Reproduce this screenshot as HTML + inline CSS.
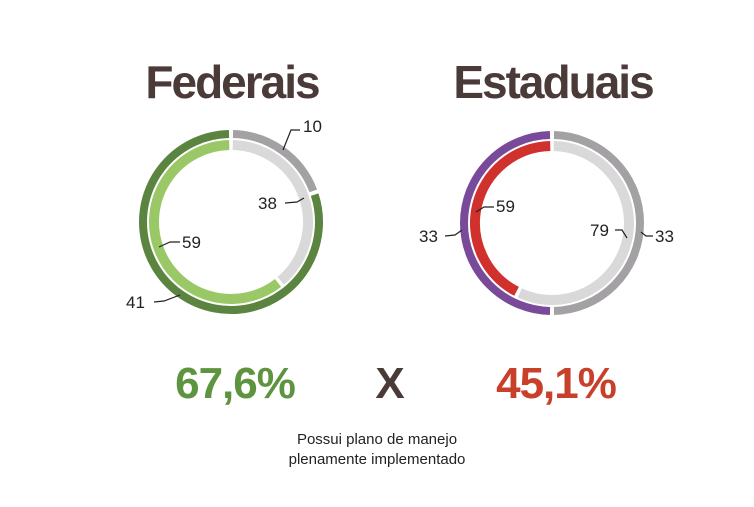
<!DOCTYPE html>
<html><head><meta charset="utf-8"><style>
body{margin:0;background:#fff;}
svg{display:block;font-family:"Liberation Sans",Arial,sans-serif;}
</style></head><body>
<svg width="754" height="507" viewBox="0 0 754 507">
<text x="232" y="98" text-anchor="middle" font-size="46" font-weight="bold" fill="#4a3b38" letter-spacing="-2">Federais</text>
<text x="553" y="98" text-anchor="middle" font-size="46" font-weight="bold" fill="#4a3b38" letter-spacing="-2">Estaduais</text>
<g id="rings"></g>
<g font-size="17" fill="#222">
<text x="303" y="132">10</text>
<polyline points="283,150 291,130 300,130" fill="none" stroke="#222" stroke-width="1.2"/>
<text x="258" y="209">38</text>
<polyline points="285,203 297,202 304,198" fill="none" stroke="#222" stroke-width="1.2"/>
<text x="182" y="248">59</text>
<polyline points="159,247 170,242 180,242" fill="none" stroke="#222" stroke-width="1.2"/>
<text x="126" y="308">41</text>
<polyline points="154,302 164,301 180,295" fill="none" stroke="#222" stroke-width="1.2"/>
<text x="419" y="242">33</text>
<polyline points="445,236 455,235 462,230" fill="none" stroke="#222" stroke-width="1.2"/>
<text x="496" y="212">59</text>
<polyline points="476,212 484,207 494,207" fill="none" stroke="#222" stroke-width="1.2"/>
<text x="590" y="236">79</text>
<polyline points="615,230 622,230 627,238" fill="none" stroke="#222" stroke-width="1.2"/>
<text x="655" y="242">33</text>
<polyline points="641,232 646,236 653,236" fill="none" stroke="#222" stroke-width="1.2"/>
</g>
<text x="235" y="398" text-anchor="middle" font-size="44" font-weight="bold" fill="#5e9440" letter-spacing="-1">67,6%</text>
<text x="390" y="398" text-anchor="middle" font-size="44" font-weight="bold" fill="#4a3b38">X</text>
<text x="556" y="398" text-anchor="middle" font-size="44" font-weight="bold" fill="#c8402a" letter-spacing="-1">45,1%</text>
<text x="377" y="444" text-anchor="middle" font-size="15" fill="#222">Possui plano de manejo</text>
<text x="377" y="464" text-anchor="middle" font-size="15" fill="#222">plenamente implementado</text>
</svg>
<script>
const fedOuter=[10,41];
const fedInner=[38,59];
const estOuter=[33,33];
const estInner=[79,59];
const fedOuterColors=["#a3a1a3","#5a8440"];
const fedInnerColors=["#d9d9d9","#9bc866"];
const estOuterColors=["#a3a1a3","#7a4a9a"];
const estInnerColors=["#d9d9d9","#d0312d"];
const NS="http://www.w3.org/2000/svg";
const g=document.getElementById("rings");
function pt(cx,cy,r,a){const t=(a-90)*Math.PI/180;return [cx+r*Math.cos(t),cy+r*Math.sin(t)];}
function ring(cx,cy,r,w,vals,cols,name){
  const tot=vals.reduce((a,b)=>a+b,0);let a0=0;const gap=1.3;
  vals.forEach((v,i)=>{
    const a1=a0+v/tot*360;
    const s=pt(cx,cy,r,a0+gap),e=pt(cx,cy,r,a1-gap);
    const large=(a1-a0-2*gap)>180?1:0;
    const p=document.createElementNS(NS,"path");
    p.setAttribute("d",`M${s[0]},${s[1]} A${r},${r} 0 ${large} 1 ${e[0]},${e[1]}`);
    p.setAttribute("fill","none");p.setAttribute("stroke",cols[i]);p.setAttribute("stroke-width",w);
    
    
    g.appendChild(p);a0=a1;
  });
}
ring(231,222,88,8,fedOuter,fedOuterColors,"fed-outer");
ring(231,222,77,10,fedInner,fedInnerColors,"fed-inner");
ring(552,223,88,8,estOuter,estOuterColors,"est-outer");
ring(552,223,77,10,estInner,estInnerColors,"est-inner");
</script>
</body></html>
